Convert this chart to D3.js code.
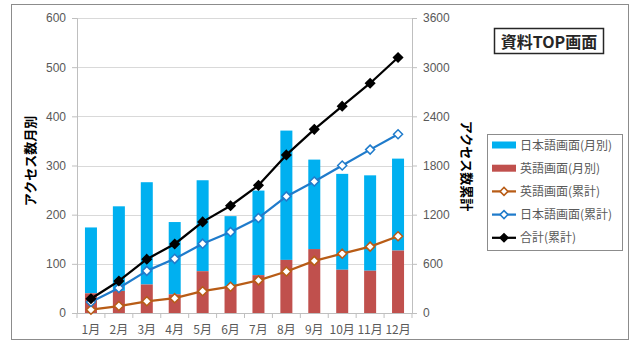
<!DOCTYPE html>
<html><head><meta charset="utf-8">
<script src="https://cdn.jsdelivr.net/npm/d3@7"></script>
<style>
html,body{margin:0;padding:0;background:#fff;}
svg{display:block;font-family:"Noto Sans CJK JP","Noto Sans",sans-serif;}
</style></head>
<body>
<svg id="c" width="631" height="347"></svg>
<script>
const months = ["1月","2月","3月","4月","5月","6月","7月","8月","9月","10月","11月","12月"];
const enMonthly = [40,45,58,38,85,55,77,108,130,88,86,127];
const jaMonthly = [134,172,208,147,185,142,172,263,182,195,194,187];
const enCum = [40,85,143,181,266,321,398,506,636,724,810,937];
const jaCum = [134,306,514,661,846,988,1160,1423,1605,1800,1994,2181];
const totalCum = [174,391,657,842,1112,1309,1558,1929,2241,2524,2804,3118];
const leftTicks = [0,100,200,300,400,500,600];
const rightTicks = [0,600,1200,1800,2400,3000,3600];
const title = "資料TOP画面";
const leftTitle = "アクセス数月別";
const rightTitle = "アクセス数累計";
const legendLabels = ["日本語画面(月別)","英語画面(月別)","英語画面(累計)","日本語画面(累計)","合計(累計)"];

const svg = d3.select("#c");
const C = {ja:"#00B0F0", en:"#C0504D", enL:"#B85C16", jaL:"#1F7BCB", tot:"#000000", grid:"#d9d9d9", axis:"#bfbfbf", txt:"#595959"};

// outer border
svg.append("rect").attr("x",11.5).attr("y",4.5).attr("width",617).attr("height",335)
  .attr("fill","none").attr("stroke","#8c8c8c").attr("stroke-width",1);

const plot = {l:77, r:412, t:18, b:313};
const x = d3.scaleBand().domain(months).range([plot.l, plot.r]).paddingInner(0.57).paddingOuter(0.285);
const xc = d => x(d) + x.bandwidth()/2;
const yL = d3.scaleLinear().domain([0,600]).range([plot.b, plot.t]);
const yR = d3.scaleLinear().domain([0,3600]).range([plot.b, plot.t]);

// gridlines
svg.append("g").selectAll("line").data(leftTicks.filter(d=>d>0)).join("line")
  .attr("x1",plot.l).attr("x2",plot.r).attr("y1",d=>Math.round(yL(d))+0.5).attr("y2",d=>Math.round(yL(d))+0.5)
  .attr("stroke",C.grid).attr("stroke-width",1);

// left axis
const gL = svg.append("g").attr("transform",`translate(${plot.l},0)`)
  .call(d3.axisLeft(yL).tickValues(leftTicks).tickFormat(d3.format("d")).tickSize(5).tickPadding(6));
gL.select(".domain").attr("stroke",C.axis);
gL.selectAll(".tick line").attr("stroke",C.axis);
gL.selectAll("text").attr("fill",C.txt).style("font-size","12px").style("font-family","'Liberation Sans',sans-serif");

// right axis
const gR = svg.append("g").attr("transform",`translate(${plot.r},0)`)
  .call(d3.axisRight(yR).tickValues(rightTicks).tickFormat(d3.format("d")).tickSize(5).tickPadding(6));
gR.select(".domain").attr("stroke",C.axis);
gR.selectAll(".tick line").attr("stroke",C.axis);
gR.selectAll("text").attr("fill",C.txt).style("font-size","12px").style("font-family","'Liberation Sans',sans-serif");

// bottom axis
const step = x.step();
const gB = svg.append("g").attr("transform",`translate(0,${plot.b})`);
gB.append("line").attr("x1",plot.l).attr("x2",plot.r).attr("y1",0.5).attr("y2",0.5).attr("stroke",C.axis);
gB.selectAll("line.tk").data(d3.range(months.length+1)).join("line").attr("class","tk")
  .attr("x1",i=>plot.l+i*step).attr("x2",i=>plot.l+i*step).attr("y1",0).attr("y2",5).attr("stroke",C.axis);
gB.selectAll("text").data(months).join("text")
  .attr("x",d=>xc(d)).attr("y",21).attr("text-anchor","middle")
  .attr("fill",C.txt).style("font-size","12px").text(d=>d);

// bars (stacked)
svg.append("g").selectAll("rect").data(months).join("rect")
  .attr("x",d=>x(d)).attr("width",x.bandwidth())
  .attr("y",(d,i)=>yL(enMonthly[i]+jaMonthly[i]))
  .attr("height",(d,i)=>yL(enMonthly[i]) - yL(enMonthly[i]+jaMonthly[i]))
  .attr("fill",C.ja);
svg.append("g").selectAll("rect").data(months).join("rect")
  .attr("x",d=>x(d)).attr("width",x.bandwidth())
  .attr("y",(d,i)=>yL(enMonthly[i]))
  .attr("height",(d,i)=>plot.b - yL(enMonthly[i]))
  .attr("fill",C.en);

// lines
function diamondPath(s){ return `M0,${-s}L${s},0L0,${s}L${-s},0Z`; }
function drawLine(vals, color, fill, ms){
  const line = d3.line().x((d,i)=>xc(months[i])).y(d=>yR(d));
  svg.append("path").datum(vals).attr("d",line).attr("fill","none")
    .attr("stroke",color).attr("stroke-width",2.25).attr("stroke-linejoin","round");
  svg.append("g").selectAll("path").data(vals).join("path")
    .attr("transform",(d,i)=>`translate(${xc(months[i])},${yR(d)})`)
    .attr("d",diamondPath(ms)).attr("fill",fill).attr("stroke",color).attr("stroke-width",1.5);
}
drawLine(enCum, C.enL, "#fff", 4.5);
drawLine(jaCum, C.jaL, "#fff", 4.5);
drawLine(totalCum, C.tot, C.tot, 4.5);

// axis titles
svg.append("text").attr("transform","translate(35,161) rotate(-90)").attr("text-anchor","middle")
  .style("font-size","13px").style("font-weight","bold").attr("fill","#000").text(leftTitle);
svg.append("text").attr("transform","translate(462,166) rotate(90)").attr("text-anchor","middle")
  .style("font-size","13px").style("font-weight","bold").attr("fill","#000").text(rightTitle);

// title box
svg.append("rect").attr("x",494.5).attr("y",28.5).attr("width",109).attr("height",25)
  .attr("fill","#fff").attr("stroke","#262626").attr("stroke-width",1.5);
svg.append("text").attr("x",549).attr("y",47.5).attr("text-anchor","middle")
  .style("font-size","16px").style("font-weight","bold").attr("fill","#262626").text(title);

// legend
const lg = svg.append("g");
lg.append("rect").attr("x",487.5).attr("y",134.5).attr("width",135).attr("height",116)
  .attr("fill","#fff").attr("stroke","#8c8c8c");
const ly = i => 145 + i*23.2;
const types = [{t:"bar",c:C.ja},{t:"bar",c:C.en},{t:"line",c:C.enL,f:"#fff"},{t:"line",c:C.jaL,f:"#fff"},{t:"line",c:C.tot,f:C.tot}];
types.forEach((s,i)=>{
  const yy = ly(i);
  if(s.t==="bar"){
    lg.append("rect").attr("x",492).attr("y",yy-3.5).attr("width",24).attr("height",7).attr("fill",s.c);
  } else {
    lg.append("line").attr("x1",492).attr("x2",516).attr("y1",yy).attr("y2",yy).attr("stroke",s.c).attr("stroke-width",2.25);
    lg.append("path").attr("transform",`translate(504,${yy})`).attr("d",diamondPath(4))
      .attr("fill",s.f).attr("stroke",s.c).attr("stroke-width",1.5);
  }
  lg.append("text").attr("x",520).attr("y",yy+4.5).style("font-size","12px").attr("fill",C.txt).text(legendLabels[i]);
});
</script>
</body></html>
